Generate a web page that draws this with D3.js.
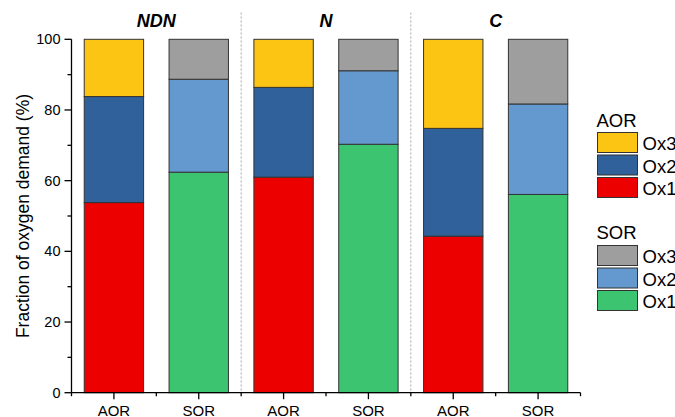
<!DOCTYPE html>
<html>
<head>
<meta charset="utf-8">
<script src="https://cdn.jsdelivr.net/npm/d3@7"></script>
<style>
  html, body { margin: 0; padding: 0; background: #fff; }
  svg { display: block; font-family: Arial, "Liberation Sans", sans-serif; }
</style>
</head>
<body>
<svg id="chart" width="675" height="417"></svg>
<script>
// Treatments, and the two oxidation routes shown within each one
const groups = ["NDN", "N", "C"];
const routes = ["AOR", "SOR"];
// Oxygen demand fractions (%) per bar, in order NDN-AOR, NDN-SOR, N-AOR, N-SOR, C-AOR, C-SOR
const ox1 = [53.8, 62.4, 61.0, 70.3, 44.3, 56.1];
const ox2 = [30.0, 26.3, 25.4, 20.8, 30.5, 25.6];
const ox3 = [16.2, 11.3, 13.6, 8.9, 25.2, 18.3];
const yTicks = [0, 20, 40, 60, 80, 100];
const legendItems = ["Ox3", "Ox2", "Ox1"];

const colors = {
  AOR: { Ox1: "#ec0000", Ox2: "#31619a", Ox3: "#fcc514" },
  SOR: { Ox1: "#3cc471", Ox2: "#6499cf", Ox3: "#9e9e9e" }
};

const svg = d3.select("#chart");
const plotLeft = 71.5, plotRight = 580.5, plotTop = 39.3, plotBottom = 392.7;

const bars = [];
groups.forEach((g, gi) => routes.forEach((r, ri) => {
  const i = gi * 2 + ri;
  bars.push({ key: g + "-" + r, group: g, route: r, Ox1: ox1[i], Ox2: ox2[i], Ox3: ox3[i] });
}));

const x = d3.scaleBand().domain(bars.map(d => d.key)).range([plotLeft, plotRight])
  .paddingInner(0.3).paddingOuter(0.15);
const y = d3.scaleLinear().domain([0, 100]).range([plotBottom, plotTop]);

// group separators (dotted)
const step = x.step();
[2, 4].forEach(k => {
  svg.append("line")
    .attr("x1", plotLeft + k * step).attr("x2", plotLeft + k * step)
    .attr("y1", 12.5).attr("y2", plotBottom)
    .attr("stroke", "#a8a8a8").attr("stroke-width", 1)
    .attr("stroke-dasharray", "2,2");
});

// stacked bars
const stack = d3.stack().keys(["Ox1", "Ox2", "Ox3"]);
const layers = stack(bars);
layers.forEach(layer => {
  svg.append("g").selectAll("rect").data(layer).join("rect")
    .attr("x", d => x(d.data.key))
    .attr("width", x.bandwidth())
    .attr("y", d => y(d[1]))
    .attr("height", d => y(d[0]) - y(d[1]))
    .attr("fill", d => colors[d.data.route][layer.key])
    .attr("stroke", "#333").attr("stroke-width", 1);
});

// y axis
const yAxis = svg.append("g").attr("transform", `translate(${plotLeft},0)`);
yAxis.append("line").attr("x1", 0).attr("x2", 0).attr("y1", y(100)).attr("y2", y(0))
  .attr("stroke", "#000").attr("stroke-width", 1.3);
d3.range(0, 101, 10).forEach(v => {
  const major = v % 20 === 0;
  yAxis.append("line").attr("x1", major ? -7 : -4).attr("x2", 0)
    .attr("y1", y(v)).attr("y2", y(v)).attr("stroke", "#000").attr("stroke-width", 1.3);
});
yAxis.selectAll("text.tick").data(yTicks).join("text")
  .attr("class", "tick")
  .attr("x", -11).attr("y", d => y(d) + 5)
  .attr("text-anchor", "end").attr("font-size", 14.5).attr("fill", "#000")
  .text(d => d);

// y title
svg.append("text")
  .attr("transform", `translate(29,${(plotTop + plotBottom) / 2}) rotate(-90)`)
  .attr("text-anchor", "middle").attr("font-size", 17.5).attr("fill", "#000")
  .text("Fraction of oxygen demand (%)");

// x axis
const xAxis = svg.append("g");
xAxis.append("line").attr("x1", plotLeft).attr("x2", plotRight).attr("y1", plotBottom).attr("y2", plotBottom)
  .attr("stroke", "#000").attr("stroke-width", 1.3);
d3.range(0, bars.length + 1).forEach(k => {
  const xx = plotLeft + k * step;
  xAxis.append("line").attr("x1", xx).attr("x2", xx).attr("y1", plotBottom).attr("y2", plotBottom + 3.5)
    .attr("stroke", "#000").attr("stroke-width", 1.3);
});
bars.forEach(d => {
  const xx = x(d.key) + x.bandwidth() / 2;
  xAxis.append("line").attr("x1", xx).attr("x2", xx).attr("y1", plotBottom).attr("y2", plotBottom + 6.5)
    .attr("stroke", "#000").attr("stroke-width", 1.3);
  xAxis.append("text").attr("x", xx).attr("y", 415.5)
    .attr("text-anchor", "middle").attr("font-size", 15).attr("fill", "#000")
    .text(d.route);
});

// group titles
groups.forEach((g, gi) => {
  svg.append("text")
    .attr("x", plotLeft + (gi * 2 + 1) * step).attr("y", 26.7)
    .attr("text-anchor", "middle").attr("font-size", 18)
    .attr("font-weight", "bold").attr("font-style", "italic").attr("fill", "#000")
    .text(g);
});

// legends
const legX = 597.5;
[{ route: "AOR", titleY: 126.7, boxTop: 132.5 }, { route: "SOR", titleY: 239.3, boxTop: 245.5 }]
  .forEach(block => {
    svg.append("text").attr("x", legX - 1).attr("y", block.titleY)
      .attr("font-size", 18.5).attr("fill", "#000").text(block.route);
    legendItems.forEach((k, i) => {
      const ty = block.boxTop + i * 22.5;
      svg.append("rect").attr("x", legX).attr("y", ty).attr("width", 40).attr("height", 20)
        .attr("fill", colors[block.route][k]).attr("stroke", "#333").attr("stroke-width", 1);
      svg.append("text").attr("x", legX + 45).attr("y", ty + 17.5)
        .attr("font-size", 18.5).attr("fill", "#000").text(k);
    });
  });
</script>
</body>
</html>
